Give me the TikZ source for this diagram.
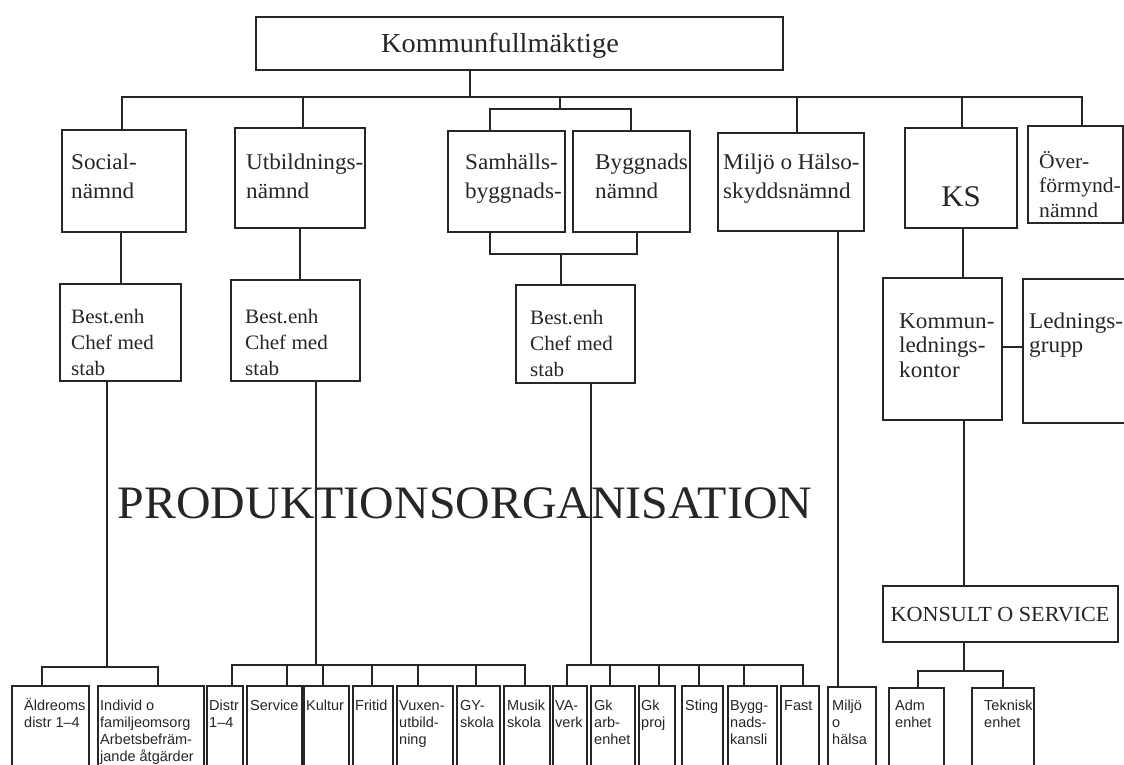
\documentclass[tikz,border=0pt]{standalone}
\usepackage{fontspec}
\setmainfont{Liberation Serif}[FakeStretch=1.03]
\newfontfamily\hv{Liberation Sans}
\newcommand\bx[5]{\node[bx, minimum width={#4-#2}, minimum height={#5-#3}] (#1) at ({(#2+#4)/2},{(#3+#5)/2}) {};}
\begin{document}
\begin{tikzpicture}[x=1pt,y=-1pt,
  bx/.style={draw=black!85, line width=1.1pt, rectangle, inner sep=0pt, outer sep=0pt},
  ln/.style={draw=black!85, line width=1.1pt},
  lab/.style={anchor=base west, align=left, inner sep=0pt, text=black!85, font=\fontsize{22.5}{29}\selectfont},
  labb/.style={anchor=base west, align=left, inner sep=0pt, text=black!85, font=\fontsize{20.5}{26}\selectfont},
  labk/.style={anchor=base west, align=left, inner sep=0pt, text=black!85, font=\fontsize{22.5}{24.5}\selectfont},
  sm/.style={anchor=base west, align=left, inner sep=0pt, text=black!85, font=\hv\fontsize{14.5}{17}\selectfont}]
\path[use as bounding box] (0,0) rectangle (1124,765);
\fill[white] (0,0) rectangle (1124,765);
\clip (0,0) rectangle (1124,765);
% ---- top level
\bx{KF}{256}{17}{783}{70}
\node[anchor=base, inner sep=0pt, text=black!85, font=\fontsize{27.5}{30}\selectfont] (KFt) at (500,53) {Kommunfullmäktige};
\bx{Social}{62}{130}{186}{232}
\bx{Utb}{235}{128}{365}{228}
\bx{Samh}{448}{131}{565}{232}
\bx{Bygg}{573}{131}{690}{232}
\bx{Miljo}{718}{133}{864}{231}
\bx{KS}{905}{128}{1017}{228}
\bx{Over}{1028}{126}{1123}{223}
% (multi-line labels are anchored at the baseline of their last line)
\node[lab] (tSocial) at (71,198) {Social-\\nämnd};
\node[lab] (tUtb) at (246,198) {Utbildnings-\\nämnd};
\node[lab] (tSamh) at (465,198) {Samhälls-\\byggnads-};
\node[lab] (tBygg) at (595,198) {Byggnads\\nämnd};
\node[lab] (tMiljo) at (723,198) {Miljö o Hälso-\\skyddsnämnd};
\node[anchor=base, inner sep=0pt, text=black!85, font=\fontsize{30}{34}\selectfont] (tKS) at (961,206) {KS};
\node[anchor=base west, align=left, inner sep=0pt, text=black!85, font=\fontsize{21}{24.5}\selectfont] (tOver) at (1039,217) {Över-\\förmynd-\\nämnd};
% ---- second level
\bx{Best1}{60}{284}{181}{381}
\bx{Best2}{231}{280}{360}{381}
\bx{Best3}{516}{285}{635}{383}
\bx{Kommun}{883}{278}{1002}{420}
\bx{Ledn}{1023}{279}{1135}{423}
\node[labb] (tB1) at (71,375) {Best.enh\\Chef med\\stab};
\node[labb] (tB2) at (245,375) {Best.enh\\Chef med\\stab};
\node[labb] (tB3) at (530,376) {Best.enh\\Chef med\\stab};
\node[labk] (tKommun) at (899,377) {Kommun-\\lednings-\\kontor};
\node[labk] (tLedn) at (1029,352.5) {Lednings-\\grupp};
\bx{Konsult}{883}{586}{1118}{642}
\node[anchor=center, inner sep=0pt, text=black!85, font=\fontsize{21.5}{24}\selectfont] (tKonsult) at (1000,615) {KONSULT O SERVICE};
% ---- bottom row
\bx{Aldre}{12}{686}{89}{780}
\bx{Indiv}{98}{686}{204}{780}
\bx{Distr}{207}{686}{243}{780}
\bx{Service}{247}{686}{302}{780}
\bx{Kultur}{304}{686}{349}{780}
\bx{Fritid}{353}{686}{393}{780}
\bx{Vuxen}{397}{686}{453}{780}
\bx{GY}{457}{686}{500}{780}
\bx{Musik}{504}{686}{550}{780}
\bx{VA}{553}{686}{587}{780}
\bx{Gkarb}{591}{686}{635}{780}
\bx{Gkproj}{639}{686}{675}{780}
\bx{Sting}{682}{686}{723}{780}
\bx{Byggk}{728}{686}{777}{780}
\bx{Fast}{781}{686}{819}{780}
\bx{Mhalsa}{828}{687}{876}{780}
\bx{Adm}{889}{688}{944}{780}
\bx{Tek}{972}{688}{1034}{780}
\node[sm] (tAldre) at (24,727) {Äldreoms\\distr 1–4};
\node[sm] (tIndiv) at (100,761) {Individ o\\familjeomsorg\\Arbetsbefräm-\\jande åtgärder};
\node[sm] (tDistr) at (209,727) {Distr\\1–4};
\node[sm] (tService) at (250,710) {Service};
\node[sm] (tKultur) at (306,710) {Kultur};
\node[sm] (tFritid) at (355,710) {Fritid};
\node[sm] (tVuxen) at (399,744) {Vuxen-\\utbild-\\ning};
\node[sm] (tGY) at (460,727) {GY-\\skola};
\node[sm] (tMusik) at (507,727) {Musik\\skola};
\node[sm] (tVA) at (555,727) {VA-\\verk};
\node[sm] (tGkarb) at (594,744) {Gk\\arb-\\enhet};
\node[sm] (tGkproj) at (641,727) {Gk\\proj};
\node[sm] (tSting) at (685,710) {Sting};
\node[sm] (tByggk) at (730,744) {Bygg-\\nads-\\kansli};
\node[sm] (tFast) at (784,710) {Fast};
\node[sm] (tMhalsa) at (832,744) {Miljö\\o\\hälsa};
\node[sm] (tAdm) at (895,727) {Adm\\enhet};
\node[sm] (tTek) at (984,727) {Teknisk\\enhet};
% ---- big title
\node[anchor=base, inner sep=0pt, text=black!85, font=\fontsize{46.5}{50}\selectfont] (prod) at (465,518) {PRODUKTIONSORGANISATION};
% ---- connectors
\coordinate (kfd) at (470,97);
\draw[ln] (KF.south -| kfd) -- (kfd);
\draw[ln] ([xshift=60]Social.north west) |- (kfd);
\draw[ln] ([xshift=68]Utb.north west) |- (kfd);
\coordinate (sbj) at (560,109);
\draw[ln] ([xshift=42]Samh.north west) |- (sbj);
\draw[ln] ([xshift=58]Bygg.north west) |- (sbj);
\draw[ln] (sbj) |- (kfd);
\draw[ln] ([xshift=79]Miljo.north west) |- (kfd);
\draw[ln] ([xshift=57]KS.north west) |- (kfd);
\draw[ln] ([xshift=54]Over.north west) |- (kfd);
% level 2
\draw[ln] ([xshift=59]Social.south west) -- ([xshift=61]Best1.north west);
\draw[ln] ([xshift=65]Utb.south west) -- ([xshift=69]Best2.north west);
\coordinate (sbb) at (561,254);
\draw[ln] ([xshift=42]Samh.south west) |- (sbb);
\draw[ln] ([xshift=64]Bygg.south west) |- (sbb);
\draw[ln] (sbb) -- ([xshift=45]Best3.north west);
\draw[ln] ([xshift=58]KS.south west) -- ([xshift=80]Kommun.north west);
\draw[ln] ([yshift=2]Kommun.east) -- ([yshift=2]Kommun.east -| Ledn.west);
\draw[ln] ([xshift=81]Kommun.south west) -- ([xshift=81]Konsult.north west);
\draw[ln] ([xshift=120]Miljo.south west) -- ([xshift=10]Mhalsa.north west);
% bottom brackets
\coordinate (b1) at (107,667);
\draw[ln] (Best1.south -| b1) -- (b1);
\draw[ln] ([xshift=30]Aldre.north west) |- (b1);
\draw[ln] ([xshift=60]Indiv.north west) |- (b1);
\coordinate (b2) at (316,665);
\draw[ln] (Best2.south -| b2) -- (b2);
\foreach \n/\o in {Distr/25, Service/40, Kultur/19, Fritid/19, Vuxen/21, GY/19, Musik/21}
  \draw[ln] ([xshift=\o]\n.north west) |- (b2);
\coordinate (b3) at (591,665);
\draw[ln] (Best3.south -| b3) -- (b3);
\foreach \n/\o in {VA/14, Gkarb/19, Gkproj/20, Sting/17, Byggk/16, Fast/22}
  \draw[ln] ([xshift=\o]\n.north west) |- (b3);
\coordinate (kb) at (964,671);
\draw[ln] ([xshift=81]Konsult.south west) -- (kb);
\draw[ln] ([xshift=29]Adm.north west) |- (kb);
\draw[ln] ([xshift=31]Tek.north west) |- (kb);
\end{tikzpicture}
\end{document}
